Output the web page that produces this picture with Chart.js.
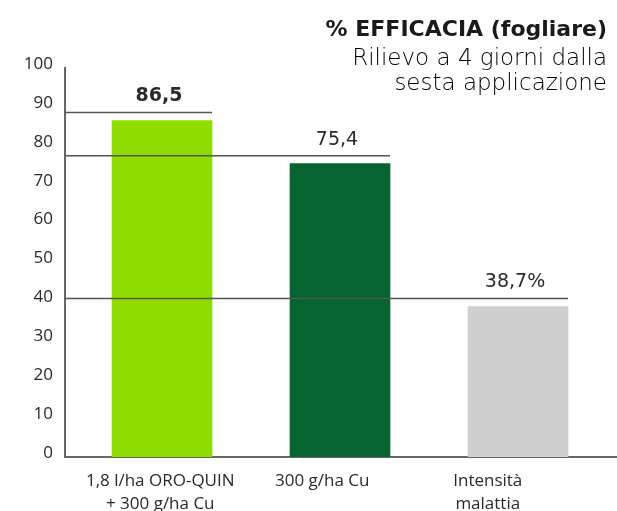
<!DOCTYPE html>
<html>
<head>
<meta charset="utf-8">
<script src="https://cdn.jsdelivr.net/npm/chart.js@4.4.1/dist/chart.umd.min.js"></script>
<style>
  html, body { margin: 0; padding: 0; background: #fff; }
  #wrap { width: 617px; height: 511px; }
</style>
</head>
<body>
<div id="wrap"><canvas id="chart" width="617" height="511"></canvas></div>
<script>
// data
const categories = [
    ["1,8 l/ha ORO-QUIN", "+ 300 g/ha Cu"],
    ["300 g/ha Cu"],
    ["Intensità", "malattia"],
];
const values = [86.5, 75.4, 38.7];
const valueLabels = ["86,5", "75,4", "38,7%"];
const titleLine = "% EFFICACIA (fogliare)";
const subtitleLines = ["Rilievo a 4 giorni dalla", "sesta applicazione"];

// styling
const barColors = ["#8fdc00", "#066431", "#cfcfcf"];
const labelNudge = [-0.01, -0.1, -0.17]; // category labels sit a bit left of bars in the original
const FONT = "'Open Sans', 'Noto Sans', sans-serif";
const WIDE = "'DejaVu Sans', sans-serif";
const TEXT = "#2a2a2a";
const AXIS = "#666";

let leaderPlugin = {
    id: "leaders",
    afterDatasetsDraw(chart) {
        const ctx = chart.ctx;
        const area = chart.chartArea;
        const meta = chart.getDatasetMeta(0);
        ctx.save();
        meta.data.forEach((bar, i) => {
            const right = bar.x + bar.width / 2;
            const ly = bar.y - 8;
            ctx.strokeStyle = "#555";
            ctx.lineWidth = 1.5;
            ctx.beginPath();
            ctx.moveTo(area.left, ly);
            ctx.lineTo(right, ly);
            ctx.stroke();

            ctx.fillStyle = TEXT;
            ctx.textAlign = "center";
            ctx.textBaseline = "middle";
            ctx.font = (i === 0 ? "bold " : "") + "19px " + WIDE;
            ctx.fillText(valueLabels[i], bar.x - 3, ly - 16);
        });
        ctx.restore();
    },
};

let headingPlugin = {
    id: "heading",
    afterDraw(chart) {
        const ctx = chart.ctx;
        const x = chart.width - 10;
        ctx.save();
        ctx.fillStyle = "#1a1a1a";
        ctx.textAlign = "right";
        ctx.textBaseline = "alphabetic";
        ctx.font = "bold 22px " + WIDE;
        ctx.fillText(titleLine, x, 36);
        ctx.fillStyle = "#000";
        ctx.font = "200 23px " + WIDE;
        subtitleLines.forEach((t, i) => ctx.fillText(t, x, 65 + i * 25));
        ctx.restore();
    },
};

const config = {
    type: "bar",
    data: {
        datasets: [{
            data: values.map((v, i) => ({ x: i, y: v })),
            backgroundColor: barColors,
            barThickness: 100,
            borderWidth: 0,
        }],
    },
    options: {
        responsive: false,
        animation: { duration: 0 },
        layout: { padding: { top: 68, right: 0, left: 0, bottom: 0 } },
        plugins: {
            legend: { display: false },
            tooltip: { enabled: false },
        },
        scales: {
            x: {
                type: "linear",
                offset: false,
                min: -0.545,
                max: 2.556,
                grid: { display: false, drawTicks: false },
                border: { display: true, color: AXIS, width: 2 },
                afterBuildTicks: (scale) => {
                    scale.ticks = categories.map((c, i) => ({ value: i + labelNudge[i] }));
                },
                afterFit: (scale) => { scale.height = 54; },
                ticks: {
                    autoSkip: false,
                    maxRotation: 0,
                    padding: 13,
                    color: TEXT,
                    font: { family: FONT, size: 17, lineHeight: 1.35 },
                    callback: (value, index) => categories[index],
                },
            },
            y: {
                min: 0,
                max: 100,
                grid: { display: false, drawTicks: false },
                border: { display: true, color: AXIS, width: 2 },
                afterFit: (scale) => { scale.width = 65; },
                ticks: {
                    stepSize: 10,
                    padding: 12,
                    labelOffset: -4,
                    color: TEXT,
                    font: { family: FONT, size: 17 },
                },
            },
        },
    },
    plugins: [leaderPlugin, headingPlugin],
};

new Chart(document.getElementById("chart"), config);
</script>
</body>
</html>
